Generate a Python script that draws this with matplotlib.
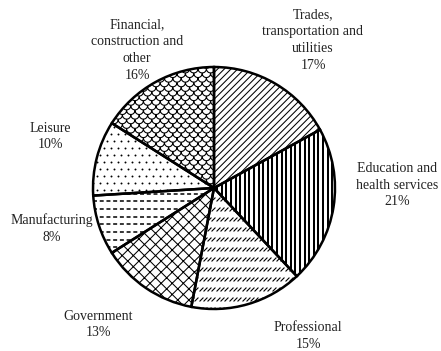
import numpy as np
import matplotlib
matplotlib.use("Agg")
import matplotlib.pyplot as plt
from matplotlib.path import Path

# slice names (clockwise from 12 o'clock) and their shares in percent
names = ["Trades,\ntransportation and\nutilities",
         "Education and\nhealth services",
         "Professional",
         "Government",
         "Manufacturing",
         "Leisure",
         "Financial,\nconstruction and\nother"]
shares = [17, 21, 15, 13, 8, 10, 16]

# layout in pixels of the 441x351 picture
W, H = 441, 351
CX, CY, R = 214, 188, 121      # pie centre and radius
PX = 1.0 / R                   # one pixel in data units
label_px = [(313, 40), (397, 185), (308, 336), (98, 324.5),
            (52, 228.5), (50, 136.5), (137, 50)]

plt.rcParams["font.family"] = ["Liberation Serif", "DejaVu Serif"]
plt.rcParams["hatch.linewidth"] = 0.75

fig = plt.figure(figsize=(W / 100, H / 100), dpi=100)
ax = fig.add_axes([0, 0, 1, 1])

# filled wedges (white, some with plain hatches)
hatches = ["/////", None, None, "xxx", None, None, None]
wedges, _ = ax.pie(shares, startangle=90, counterclock=False, radius=1,
                   wedgeprops=dict(facecolor="white", edgecolor="black",
                                   linewidth=0))
for w, h in zip(wedges, hatches):
    if h:
        w.set_hatch(h)

# hand-made textures clipped to their wedge
def clip(artists, wedge):
    for a in artists:
        a.set_clip_path(wedge)
        a.set_zorder(1.5)

# Education: heavy vertical stripes
xs = np.arange(-1, 1, 4.6 * PX)
lc = ax.vlines(xs, -1, 1, colors="black", linewidth=1.45)
clip([lc], wedges[1])

# Professional: rows of short slashes
slash = Path([(-1, -1), (1, 1)], [Path.MOVETO, Path.LINETO])
gx, gy = np.meshgrid(np.arange(-1, 1, 4.3 * PX), np.arange(-1, 1, 10 * PX))
arts = ax.plot(gx.ravel(), gy.ravel(), ls="none", marker=slash,
               markersize=2.8, markeredgewidth=0.8, color="black")
clip(arts, wedges[2])

# Manufacturing: dashed horizontal lines
arts = []
for y in np.arange(-1, 1, 7.7 * PX):
    arts += ax.plot([-1, 1], [y, y], color="black", linewidth=1.1,
                    linestyle=(0, (2.6, 1.8)))
clip(arts, wedges[4])

# Leisure: staggered dots
pts_x, pts_y = [], []
for k, y in enumerate(np.arange(-1, 1, 7 * PX)):
    row = np.arange(-1, 1, 7 * PX) + (k % 2) * 3.5 * PX
    pts_x += list(row)
    pts_y += [y] * len(row)
arts = ax.plot(pts_x, pts_y, ls="none", marker="o", markersize=1.4,
               markeredgewidth=0, color="black")
clip(arts, wedges[5])

# Financial: fish-scale arcs
r = 4.2 * PX
t = np.linspace(np.pi, 2 * np.pi, 10)
arts = []
for k, y0 in enumerate(np.arange(-1, 1.05, r * 1.1)):
    cx_list = np.arange(-1, 1, 2 * r) + (k % 2) * r
    sx = np.concatenate([c + r * np.cos(t) for c in cx_list])
    sy = np.concatenate([y0 + r * np.sin(t) for _ in cx_list])
    arts += ax.plot(sx, sy, color="black", linewidth=0.8)
clip(arts, wedges[6])

# outlines on top
ax.pie(shares, startangle=90, counterclock=False, radius=1,
       wedgeprops=dict(fill=False, edgecolor="black", linewidth=1.8,
                       zorder=3))

# labels
for name, v, (px, py) in zip(names, shares, label_px):
    ax.text((px - CX) * PX, (CY - py) * PX, f"{name}\n{v}%",
            ha="center", va="center", multialignment="center",
            fontsize=10, color="#222222", linespacing=1.38)

ax.set_xlim(-CX * PX, (W - CX) * PX)
ax.set_ylim(-(H - CY) * PX, CY * PX)
ax.set_aspect("auto")
ax.axis("off")

fig.savefig("out.png", dpi=100)
